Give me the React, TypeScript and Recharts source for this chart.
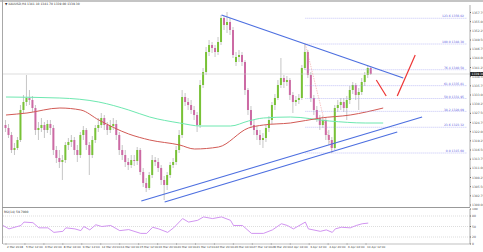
import { ComposedChart, Bar, Line, XAxis, YAxis, ReferenceLine } from "recharts"

// XAUUSD H4 candles: [open, high, low, close]
const candles: [number, number, number, number][] = [
  [1324.0, 1325.5, 1321.9, 1323.1], [1323.1, 1324.3, 1320.1, 1321.0], [1321.0, 1321.9, 1315.6, 1316.5],
  [1316.5, 1318.6, 1315.0, 1317.1], [1317.1, 1320.4, 1316.5, 1319.5], [1319.5, 1330.0, 1318.9, 1328.5],
  [1328.5, 1333.0, 1327.6, 1330.9], [1330.9, 1339.0, 1329.7, 1332.1], [1332.1, 1334.5, 1330.0, 1331.5],
  [1331.5, 1332.7, 1327.9, 1329.1], [1329.1, 1330.0, 1321.0, 1322.5], [1322.5, 1324.9, 1319.5, 1323.1],
  [1323.1, 1326.1, 1321.9, 1324.0], [1324.0, 1324.9, 1320.1, 1322.5], [1322.5, 1325.5, 1321.6, 1324.3],
  [1324.3, 1325.5, 1321.0, 1323.1], [1323.1, 1324.0, 1315.0, 1316.5], [1316.5, 1317.7, 1312.6, 1314.1],
  [1314.1, 1316.5, 1311.1, 1312.9], [1312.9, 1315.0, 1307.5, 1313.5], [1313.5, 1318.9, 1312.6, 1318.0],
  [1318.0, 1320.1, 1316.5, 1318.9], [1318.9, 1321.0, 1317.4, 1319.5], [1319.5, 1320.4, 1315.0, 1316.5],
  [1316.5, 1318.0, 1312.9, 1315.0], [1315.0, 1321.9, 1314.1, 1321.0], [1321.0, 1323.7, 1319.5, 1322.5],
  [1322.5, 1323.1, 1316.5, 1318.0], [1318.0, 1318.9, 1309.0, 1315.0], [1315.0, 1320.7, 1314.1, 1319.5],
  [1319.5, 1324.0, 1318.6, 1323.1], [1323.1, 1326.1, 1321.9, 1324.0], [1324.0, 1327.6, 1323.1, 1326.1],
  [1326.1, 1327.0, 1322.5, 1324.0], [1324.0, 1324.9, 1321.0, 1322.5], [1322.5, 1325.5, 1321.6, 1323.7],
  [1323.7, 1326.1, 1322.5, 1324.3], [1324.3, 1325.5, 1319.5, 1321.0], [1321.0, 1321.9, 1315.0, 1316.5],
  [1316.5, 1318.0, 1313.5, 1315.0], [1315.0, 1316.5, 1311.4, 1312.9], [1312.9, 1314.1, 1310.5, 1312.0],
  [1312.0, 1315.0, 1311.1, 1313.5], [1313.5, 1315.0, 1311.7, 1313.2], [1313.2, 1317.4, 1312.0, 1316.5],
  [1316.5, 1317.1, 1309.0, 1309.9], [1309.9, 1311.1, 1305.4, 1306.6], [1306.6, 1308.1, 1303.9, 1305.1],
  [1305.1, 1309.9, 1304.5, 1309.0], [1309.0, 1315.0, 1308.1, 1313.5], [1313.5, 1314.4, 1311.7, 1312.9],
  [1312.9, 1314.1, 1309.9, 1311.1], [1311.1, 1312.0, 1306.0, 1307.5], [1307.5, 1308.7, 1301.5, 1306.0],
  [1306.0, 1309.9, 1304.5, 1309.0], [1309.0, 1312.9, 1308.1, 1312.0], [1312.0, 1314.1, 1311.1, 1312.9],
  [1312.9, 1317.7, 1312.0, 1316.5], [1316.5, 1322.5, 1315.6, 1321.0], [1321.0, 1334.5, 1320.1, 1332.4],
  [1332.4, 1333.6, 1329.7, 1330.9], [1330.9, 1332.1, 1328.5, 1330.0], [1330.0, 1331.5, 1327.3, 1328.5],
  [1328.5, 1329.7, 1325.5, 1327.0], [1327.0, 1327.9, 1321.9, 1324.0], [1324.0, 1337.5, 1323.1, 1336.0],
  [1336.0, 1341.1, 1335.1, 1339.9], [1339.9, 1347.4, 1339.0, 1345.9], [1345.9, 1349.5, 1344.7, 1348.0],
  [1348.0, 1348.9, 1345.6, 1347.1], [1347.1, 1348.0, 1344.4, 1345.9], [1345.9, 1350.4, 1345.0, 1348.9],
  [1348.9, 1357.0, 1348.0, 1356.1], [1356.1, 1356.7, 1352.5, 1354.0], [1354.0, 1357.9, 1351.6, 1354.9],
  [1354.9, 1356.1, 1351.0, 1352.5], [1352.5, 1353.4, 1344.1, 1345.0], [1342.9, 1345.9, 1341.7, 1344.4],
  [1344.4, 1346.5, 1342.9, 1345.0], [1345.0, 1345.9, 1341.7, 1342.9], [1342.9, 1343.5, 1333.0, 1334.5],
  [1334.5, 1335.1, 1327.0, 1328.5], [1328.5, 1329.7, 1323.1, 1324.0], [1324.0, 1325.5, 1321.0, 1322.5],
  [1322.5, 1323.7, 1319.5, 1321.0], [1321.0, 1322.5, 1318.0, 1319.5], [1319.5, 1321.6, 1317.1, 1320.1],
  [1320.1, 1324.0, 1318.9, 1323.1], [1323.1, 1326.7, 1321.9, 1325.5], [1325.5, 1330.9, 1324.3, 1330.0],
  [1330.0, 1333.3, 1328.5, 1332.1], [1332.1, 1337.5, 1331.5, 1336.0], [1336.0, 1344.1, 1335.1, 1338.1],
  [1338.1, 1339.0, 1335.1, 1336.9], [1336.9, 1338.7, 1335.7, 1337.5], [1337.5, 1338.1, 1331.5, 1333.0],
  [1333.0, 1333.9, 1327.6, 1330.9], [1330.9, 1332.7, 1329.7, 1331.5], [1331.5, 1333.3, 1330.3, 1332.1],
  [1332.1, 1342.0, 1331.5, 1341.1], [1341.1, 1348.3, 1340.5, 1345.9], [1345.9, 1346.5, 1338.1, 1339.0],
  [1339.0, 1339.9, 1330.9, 1332.1], [1332.1, 1333.0, 1327.0, 1328.5], [1328.5, 1329.7, 1324.9, 1326.1],
  [1326.1, 1327.0, 1322.5, 1324.0], [1324.0, 1326.7, 1323.1, 1325.5], [1325.5, 1326.1, 1319.5, 1321.0],
  [1321.0, 1322.5, 1318.0, 1319.5], [1319.5, 1320.4, 1315.6, 1317.1], [1317.1, 1330.0, 1316.5, 1329.1],
  [1329.1, 1331.5, 1327.9, 1330.0], [1330.0, 1332.1, 1328.5, 1330.9], [1330.9, 1332.1, 1327.9, 1329.1],
  [1329.1, 1332.7, 1325.5, 1331.5], [1331.5, 1335.7, 1330.3, 1334.5], [1334.5, 1336.9, 1333.3, 1336.0],
  [1336.0, 1336.6, 1331.5, 1333.0], [1333.0, 1335.1, 1328.5, 1333.9], [1333.9, 1338.1, 1333.0, 1336.9],
  [1336.9, 1339.9, 1335.7, 1339.0], [1339.0, 1342.0, 1338.1, 1341.1], [1341.1, 1341.7, 1339.0, 1339.3],
]

// moving averages, [bar index, price]
const maGreen = [
  [0, 1332.4], [18, 1332.1], [31, 1330.9], [41, 1328.5], [48, 1326.4], [58, 1324.6], [65, 1323.7],
  [75, 1323.7], [81, 1325.2], [86, 1326.1], [95, 1326.4], [108, 1325.2], [120, 1324.6], [126, 1324.6],
]
const maRed = [
  [0, 1327.0], [7, 1327.6], [18, 1329.1], [25, 1328.5], [31, 1325.5], [41, 1321.3], [48, 1319.5],
  [58, 1318.0], [63, 1316.8], [71, 1317.4], [81, 1323.1], [86, 1324.0], [95, 1324.6], [105, 1326.1],
  [115, 1327.0], [126, 1329.1],
]

// RSI(14), [bar index, value]
const rsi = [
  [-1, 52.9], [1, 43.2], [5, 52.9], [6, 62.6], [9, 60.9], [11, 46.2], [14, 46.2], [16, 33.2], [19, 36.2],
  [20, 46.2], [23, 43.2], [25, 38.2], [26, 50], [28, 40.3], [30, 55], [32, 50], [35, 52.9], [38, 38.2],
  [41, 41.2], [45, 30.3], [47, 30.3], [49, 47.9], [51, 43.2], [54, 33.2], [56, 46.2], [59, 72.6],
  [61, 62.6], [64, 67.6], [66, 77.4], [69, 72.6], [72, 77.4], [75, 67.6], [76, 52.9], [79, 52.9],
  [82, 30.3], [86, 30.3], [89, 40.3], [92, 57.9], [94, 52.9], [96, 43.2], [100, 62.6], [101, 43.2],
  [105, 36.2], [107, 40.3], [109, 33.2], [110, 43.2], [112, 47.9], [115, 46.2], [117, 52.9],
  [119, 57.9], [121, 59.7],
]

const fibLow = 1315.6
const fibHigh = 1348.3
const fibLevels = [0, 23.6, 38.2, 50, 61.8, 76.4, 100, 123.6]

const priceTicks = [
  1300.0, 1302.75, 1305.5, 1308.25, 1311.0, 1313.75, 1316.5, 1319.25, 1322.0, 1324.75, 1327.5,
  1330.25, 1333.0, 1335.75, 1338.5, 1341.25, 1344.0, 1346.75, 1349.5, 1352.25, 1355.0, 1357.75,
]
const rsiTicks = [0, 20, 50, 80, 100]
const dateLabels = [
  "2 Mar 2018", "5 Mar 12:00", "6 Mar 20:00", "8 Mar 04:00", "9 Mar 12:00", "12 Mar 20:00",
  "14 Mar 04:00", "15 Mar 12:00", "16 Mar 20:00", "20 Mar 04:00", "21 Mar 12:00", "22 Mar 20:00",
  "26 Mar 04:00", "27 Mar 12:00", "28 Mar 20:00", "2 Apr 04:00", "3 Apr 12:00", "4 Apr 20:00",
  "6 Apr 04:00", "10 Apr 12:00",
]

// trend lines: [x1, y1, x2, y2] in bar index / price
const blueLines = [
  [72, 1357.0, 132.7, 1338.1],
  [45.2, 1301.2, 139, 1326.4],
  [53, 1300.9, 130.7, 1321.9],
]
const redArrows = [
  [123.7, 1337.5, 127, 1332.7],
  [130.7, 1332.7, 136.7, 1345.0],
]

const lastPrice = 1339.3
const X_DOMAIN = [-1, 155]

const rows = candles.map(([o, h, l, c], i) => ({ i, o, h, l, c, range: [l, h] }))
const greenRows = maGreen.map(([i, v]) => ({ i, v }))
const redRows = maRed.map(([i, v]) => ({ i, v }))
const rsiRows = rsi.map(([i, v]) => ({ i, v }))
const dateTicks = dateLabels.map((_, k) => k * 6.33)

const FONT = "'DejaVu Sans', sans-serif"

const Candle = (props: any) => {
  const { x, y, width, height, payload } = props
  const top = Math.min(y, y + height)
  const hgt = Math.abs(height)
  const k = hgt / (payload.h - payload.l || 1)
  const bTop = top + (payload.h - Math.max(payload.o, payload.c)) * k
  const bBot = top + (payload.h - Math.min(payload.o, payload.c)) * k
  const cx = x + width / 2
  const up = payload.c >= payload.o
  return (
    <g>
      <line x1={cx} x2={cx} y1={top} y2={top + hgt} stroke="#b8b8b8" strokeWidth={0.8} />
      <rect x={x} y={bTop} width={width} height={Math.max(bBot - bTop, 0.7)} fill={up ? "#78c236" : "#cc6aa4"} />
    </g>
  )
}

const fibLabel = (text: string) => (props: any) => {
  const vb = props.viewBox || {}
  return (
    <text x={vb.x + vb.width - 3} y={vb.y - 0.8} fontSize={3} fill="#6464e0" textAnchor="end" fontFamily={FONT}>
      {text}
    </text>
  )
}

const priceBox = (props: any) => {
  const vb = props.viewBox || {}
  const x = vb.x + vb.width
  return (
    <g>
      <rect x={x} y={vb.y - 2} width={13} height={4} fill="#222" />
      <text x={x + 1.5} y={vb.y + 1.1} fontSize={3} fill="#fff" fontFamily={FONT}>{lastPrice.toFixed(2)}</text>
    </g>
  )
}

// rsi chart svg starts at page y 208; its axis line sits at svg y 36
const DateTick = (props: any) => {
  const { x, index } = props
  return (
    <g>
      <line x1={x} x2={x} y1={35} y2={37} stroke="#888" strokeWidth={0.5} />
      <text x={x + 1} y={39.8} fontSize={2.8} fill="#444" fontFamily={FONT}>{dateLabels[index]}</text>
    </g>
  )
}

export default function App() {
  const last = candles[candles.length - 1]
  return (
    <div style={{ position: "fixed", left: 0, top: 0, width: 483, height: 252, background: "#fff", overflow: "hidden", fontFamily: FONT }}>
      <div style={{ position: "absolute", top: 208, left: 0 }}>
        <ComposedChart width={483} height={44} data={rsiRows} margin={{ top: 1, right: 0, bottom: 0, left: 3 }}>
          <XAxis
            type="number"
            dataKey="i"
            domain={X_DOMAIN}
            ticks={dateTicks}
            interval={0}
            tick={<DateTick />}
            tickLine={false}
            axisLine={{ stroke: "#999", strokeWidth: 0.6 }}
            height={8}
            allowDataOverflow
          />
          <YAxis
            orientation="right"
            width={13}
            domain={[0, 100]}
            ticks={rsiTicks}
            interval={0}
            tick={{ fontSize: 3, fill: "#555", fontFamily: FONT }}
            tickSize={1}
            tickMargin={1}
            axisLine={{ stroke: "#777", strokeWidth: 0.6 }}
          />
          {[20, 50, 80].map((v) => (
            <ReferenceLine key={v} y={v} stroke="#bbb" strokeWidth={0.5} strokeDasharray="1 1" />
          ))}
          <Line type="linear" dataKey="v" stroke="#cc88ee" strokeWidth={0.9} dot={false} isAnimationActive={false} />
        </ComposedChart>
      </div>
      <div style={{ position: "absolute", top: 0, left: 0 }}>
        <ComposedChart width={483} height={207} data={rows} margin={{ top: 5, right: 0, bottom: 0, left: 3 }}>
          <XAxis type="number" dataKey="i" domain={X_DOMAIN} hide allowDataOverflow />
          <YAxis
            orientation="right"
            width={13}
            domain={[1299.4, 1360]}
            ticks={priceTicks}
            interval={0}
            tickFormatter={(v: number) => v.toFixed(2)}
            tick={{ fontSize: 3, fill: "#555", fontFamily: FONT }}
            tickSize={1}
            tickMargin={1}
            axisLine={{ stroke: "#777", strokeWidth: 0.6 }}
            allowDataOverflow
          />
          <ReferenceLine y={lastPrice} stroke="#c8c8c8" strokeWidth={0.6} label={priceBox} />
          <Bar dataKey="range" barSize={2} shape={<Candle />} isAnimationActive={false} />
          <Line data={greenRows} type="monotone" dataKey="v" stroke="#6ee8b0" strokeWidth={1} dot={false} isAnimationActive={false} />
          <Line data={redRows} type="monotone" dataKey="v" stroke="#d25a55" strokeWidth={1} dot={false} isAnimationActive={false} />
          {fibLevels.map((lv) => {
            const p = fibLow + ((fibHigh - fibLow) * lv) / 100
            return (
              <ReferenceLine
                key={lv}
                segment={[{ x: 100, y: p }, { x: 154, y: p }]}
                stroke="#9a9af2"
                strokeWidth={0.6}
                strokeDasharray="1 1"
                label={fibLabel(`${lv.toFixed(1)}  ${p.toFixed(2)}`)}
              />
            )
          })}
          <ReferenceLine
            segment={[{ x: 100, y: fibHigh }, { x: 109, y: fibLow }]}
            stroke="#e88"
            strokeWidth={0.5}
            strokeDasharray="1.5 1"
          />
          {blueLines.map(([x1, y1, x2, y2], k) => (
            <ReferenceLine key={"b" + k} segment={[{ x: x1, y: y1 }, { x: x2, y: y2 }]} stroke="#4d6fe0" strokeWidth={1.2} />
          ))}
          {redArrows.map(([x1, y1, x2, y2], k) => (
            <ReferenceLine key={"r" + k} segment={[{ x: x1, y: y1 }, { x: x2, y: y2 }]} stroke="#ee3535" strokeWidth={1.2} />
          ))}
        </ComposedChart>
      </div>
      <div style={{ position: "absolute", left: 0, top: 0, width: 483, height: 1.5, background: "#c4c4c4" }} />
      <div style={{ position: "absolute", left: 1.5, top: 0, width: 0.8, height: 244, background: "#a8a8a8" }} />
      <div style={{ position: "absolute", left: 2, top: 207, width: 468, height: 0.8, background: "#999" }} />
      <div style={{ position: "absolute", left: 5, top: 2.2, fontSize: 3, color: "#333", whiteSpace: "nowrap" }}>
        ▼ XAUUSD,H4 {last[0].toFixed(2)} {last[1].toFixed(2)} {last[2].toFixed(2)} {last[3].toFixed(2)}
      </div>
      <div style={{ position: "absolute", left: 4, top: 210, fontSize: 3, color: "#333", whiteSpace: "nowrap" }}>
        RSI(14) {rsi[rsi.length - 1][1].toFixed(4)}
      </div>
    </div>
  )
}
